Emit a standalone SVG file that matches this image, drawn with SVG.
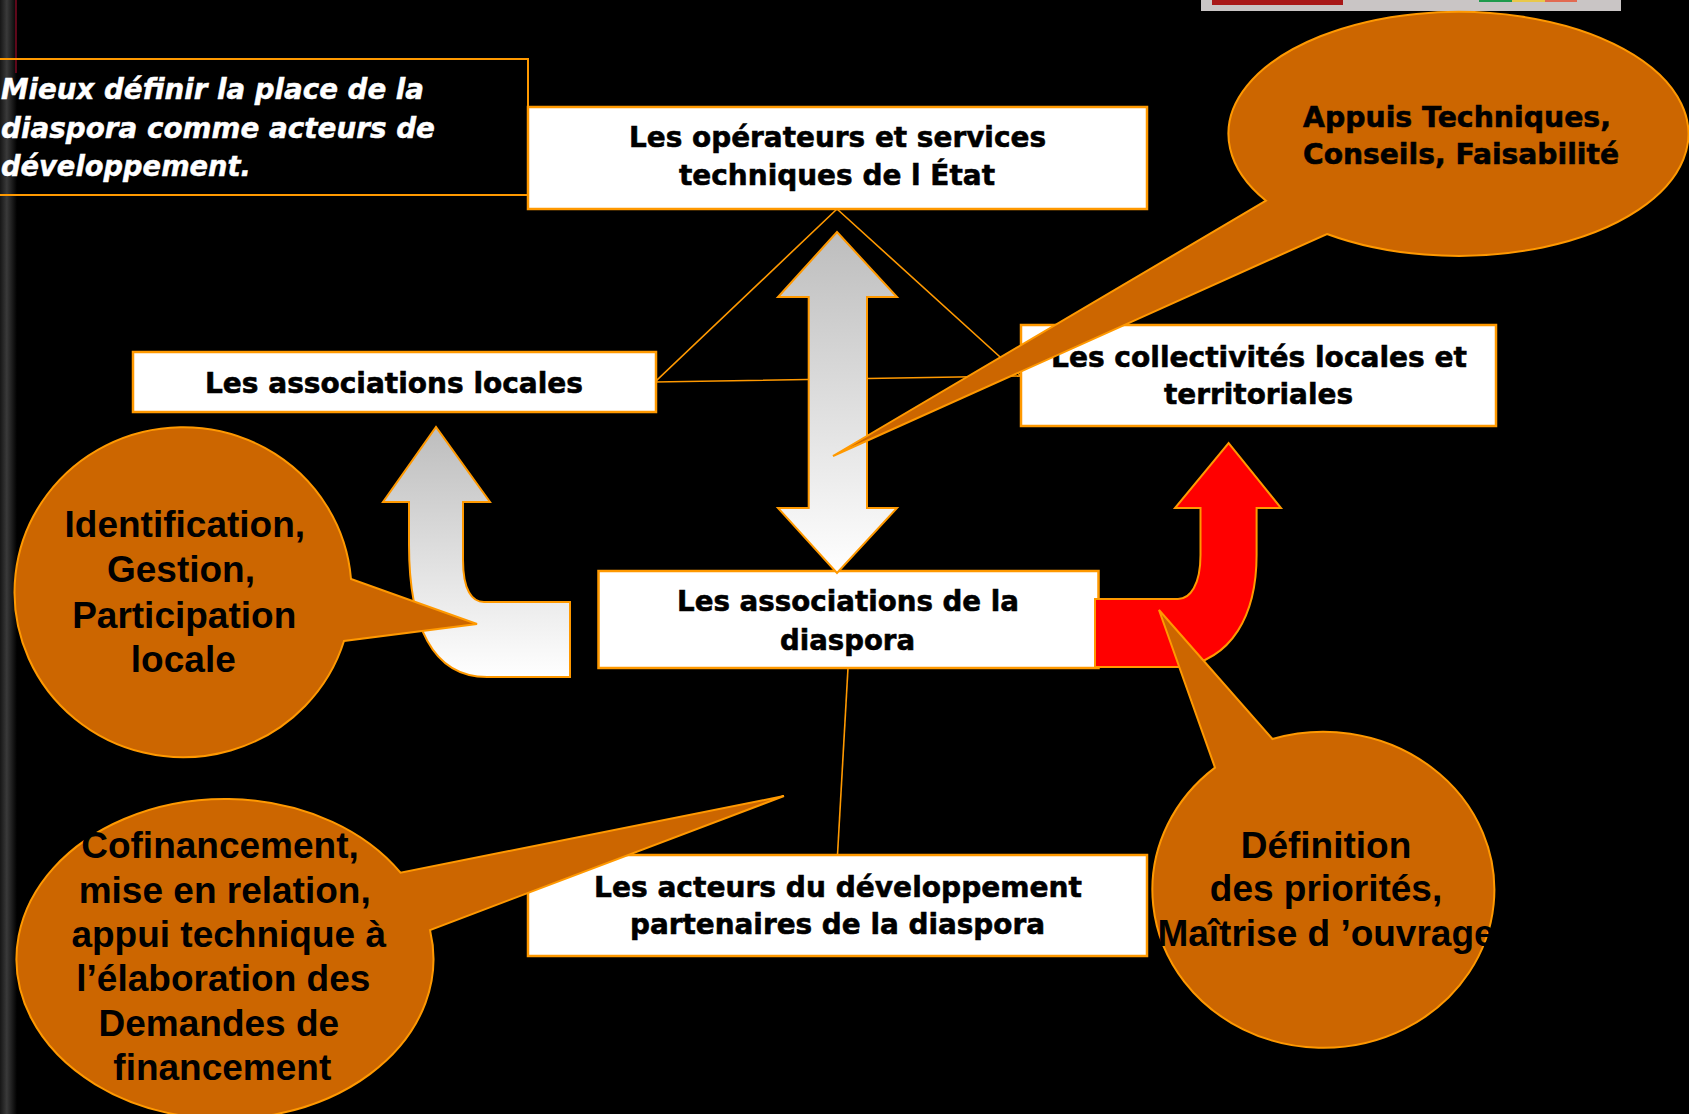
<svg xmlns="http://www.w3.org/2000/svg" width="1689" height="1114" viewBox="0 0 1689 1114">
<defs>
<linearGradient id="gArrow" x1="0" y1="0" x2="0" y2="1">
<stop offset="0" stop-color="#BDBDBD"/>
<stop offset="1" stop-color="#FFFFFF"/>
</linearGradient>
<linearGradient id="gStrip" x1="0" y1="0" x2="1" y2="0">
<stop offset="0" stop-color="#161616"/>
<stop offset="0.4" stop-color="#3a3a3a"/>
<stop offset="1" stop-color="#000000"/>
</linearGradient>
<style>
.box{fill:#FFFFFF;stroke:#FF9900;stroke-width:2.5}
.bt{font-family:"DejaVu Sans","Verdana",sans-serif;font-weight:bold;font-size:29px;fill:#000;stroke:#000;stroke-width:0.6}
.bub{fill:#CC6600;stroke:#FF9900;stroke-width:2}
.at{font-family:"Liberation Sans","Arial",sans-serif;font-weight:bold;font-size:37px;fill:#000;text-anchor:middle}
.conn{stroke:#FF9900;stroke-width:1.6;fill:none}
.arr{stroke:#FF9900;stroke-width:2}
</style>
</defs>
<rect x="0" y="0" width="1689" height="1114" fill="#000"/>
<rect x="0" y="0" width="17" height="1114" fill="url(#gStrip)"/>
<line x1="16" y1="0" x2="16" y2="73" stroke="#9A0A28" stroke-width="1.2"/>
<g id="topbar">
<rect x="1201" y="-2" width="420" height="13" fill="#C9C5C5"/>
<rect x="1212" y="-2" width="131" height="7" fill="#A81818"/>
<rect x="1479" y="-2" width="33" height="4" fill="#1F9A4B"/>
<rect x="1512" y="-2" width="33" height="4" fill="#E9C84A"/>
<rect x="1545" y="-2" width="32" height="4" fill="#E26A52"/>
</g>
<g id="title">
<rect x="-5" y="59" width="533" height="136" fill="none" stroke="#FF9900" stroke-width="2"/>
<g font-family="DejaVu Sans,Verdana,sans-serif" font-weight="bold" font-style="italic" font-size="29" fill="#FFFFFF" stroke="#FFFFFF" stroke-width="0.5">
<text x="1" y="99" textLength="423" lengthAdjust="spacingAndGlyphs">Mieux définir la place de la</text>
<text x="1" y="138" textLength="434" lengthAdjust="spacingAndGlyphs">diaspora comme acteurs de</text>
<text x="1" y="176" textLength="250" lengthAdjust="spacingAndGlyphs">développement.</text>
</g>
</g>
<g id="connectors">
<path class="conn" d="M837,209 L655,382 L1021,376 Z"/>
<line class="conn" x1="848" y1="668" x2="837.5" y2="855"/>
</g>
<g id="node-operateurs">
<rect class="box" x="528" y="107" width="619" height="102"/>
<text class="bt" x="629" y="147" textLength="417" lengthAdjust="spacingAndGlyphs">Les opérateurs et services</text>
<text class="bt" x="679" y="185" textLength="316" lengthAdjust="spacingAndGlyphs">techniques de l État</text>
</g>
<g id="node-assoc-locales">
<rect class="box" x="133" y="352" width="523" height="60"/>
<text class="bt" x="205" y="393" textLength="378" lengthAdjust="spacingAndGlyphs">Les associations locales</text>
</g>
<g id="node-collectivites">
<rect class="box" x="1021" y="325" width="475" height="101"/>
<text class="bt" x="1051" y="367" textLength="416" lengthAdjust="spacingAndGlyphs">Les collectivités locales et</text>
<text class="bt" x="1164" y="404" textLength="189" lengthAdjust="spacingAndGlyphs">territoriales</text>
</g>
<g id="node-assoc-diaspora">
<rect class="box" x="598.5" y="571" width="500" height="97"/>
<text class="bt" x="677" y="611" textLength="342" lengthAdjust="spacingAndGlyphs">Les associations de la</text>
<text class="bt" x="780" y="650" textLength="135" lengthAdjust="spacingAndGlyphs">diaspora</text>
</g>
<g id="node-acteurs">
<rect class="box" x="528" y="855" width="619" height="101"/>
<text class="bt" x="594" y="897" textLength="488" lengthAdjust="spacingAndGlyphs">Les acteurs du développement</text>
<text class="bt" x="630" y="934" textLength="415" lengthAdjust="spacingAndGlyphs">partenaires de la diaspora</text>
</g>
<g id="arrows">
<path class="arr" fill="url(#gArrow)" d="M837,232 L897,297 L867,297 L867,508 L897,508 L837,573 L778,508 L808.7,508 L808.7,297 L778,297 Z"/>
<path class="arr" fill="url(#gArrow)" d="M570,602 L484,602 C472,602 463,590 463,560 L463,502 L490,502 L436,427 L383,502 L409,502 L409,545 C409,625 432,677 487,677 L570,677 Z"/>
<path class="arr" fill="#FF0000" d="M1095,599 L1178,599 C1190,599 1200.5,585 1200.5,555 L1200.5,508 L1175,508 L1228.6,443 L1281,508 L1256.6,508 L1256.6,555 C1256.6,615 1232,660 1180,667 L1095,667 Z"/>
</g>
<g id="bubble-appuis">
<path class="bub" d="M1266,200.7 A230,122 0 1,1 1327,234 L833,456 Z"/>
<text class="bt" x="1303" y="127" font-size="30" textLength="308" lengthAdjust="spacingAndGlyphs">Appuis Techniques,</text>
<text class="bt" x="1303" y="164" font-size="30" textLength="316" lengthAdjust="spacingAndGlyphs">Conseils, Faisabilité</text>
</g>
<g id="bubble-identification">
<path class="bub" d="M351,579 A168.5,165 0 1,0 344,641 L477,624 Z"/>
<text class="at" x="184.8" y="537">Identification,</text>
<text class="at" x="181" y="582">Gestion,</text>
<text class="at" x="184.2" y="628">Participation</text>
<text class="at" x="183.3" y="672">locale</text>
</g>
<g id="bubble-cofinancement">
<path class="bub" d="M400.5,872.7 A208.5,160 0 1,0 430,930 L784,796 Z"/>
<text class="at" x="220" y="858">Cofinancement,</text>
<text class="at" x="224.7" y="903">mise en relation,</text>
<text class="at" x="228.7" y="947">appui technique à</text>
<text class="at" x="223.3" y="991">l’élaboration des</text>
<text class="at" x="218.8" y="1036">Demandes de</text>
<text class="at" x="222.3" y="1080">financement</text>
</g>
<g id="bubble-definition">
<path class="bub" d="M1215,767.6 A171,158 0 1,0 1272.4,739 L1159,610 Z"/>
<text class="at" x="1326" y="858">Définition</text>
<text class="at" x="1326" y="901">des priorités,</text>
<text class="at" x="1326" y="946">Maîtrise d ’ouvrage</text>
</g>
</svg>
